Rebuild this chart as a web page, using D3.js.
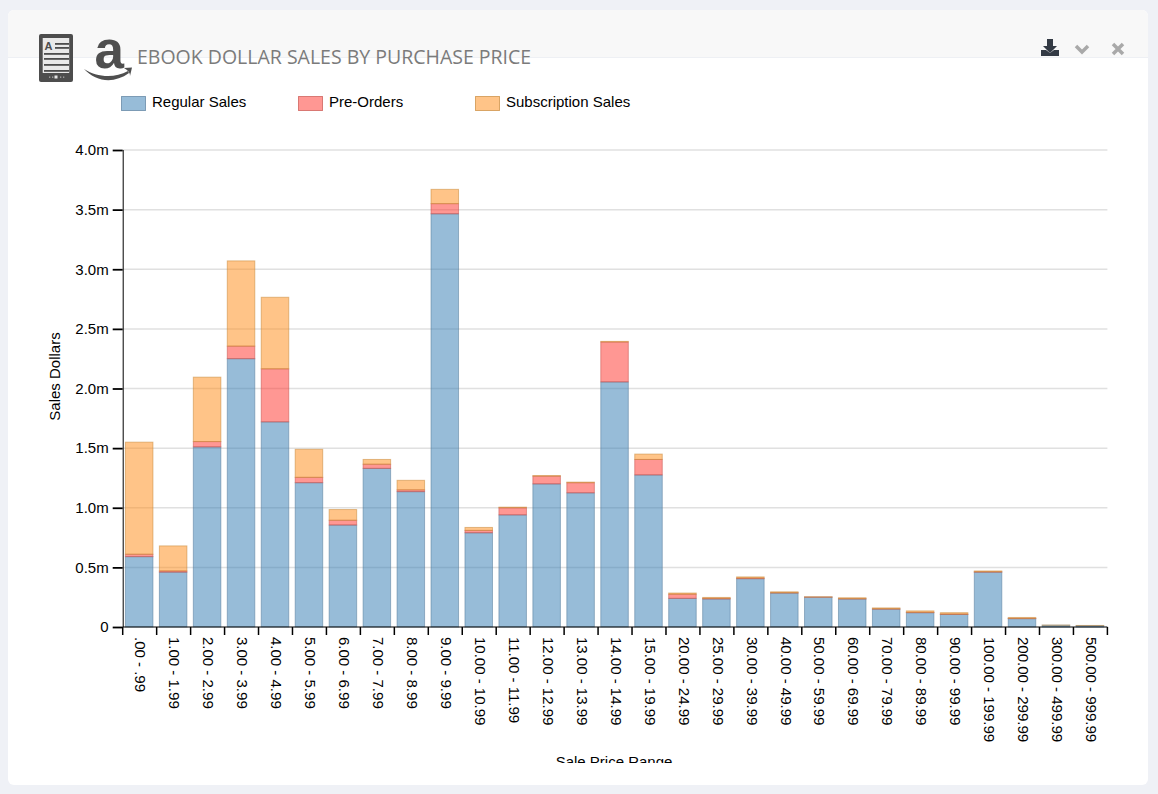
<!DOCTYPE html>
<html><head><meta charset="utf-8">
<script src="https://cdn.jsdelivr.net/npm/d3@7"></script>
<style>
html,body{margin:0;padding:0;background:#eff1f6;overflow:hidden}
svg{display:block}
text{font-family:"Liberation Sans",Arial,sans-serif;font-size:15px;fill:#000}
.title{font-family:"Open Sans",sans-serif;font-size:19.5px;fill:#7b7b7b}
</style></head><body>
<svg id="c" width="1158" height="794"></svg>
<script>
const categories=[".00 - .99","1.00 - 1.99","2.00 - 2.99","3.00 - 3.99","4.00 - 4.99","5.00 - 5.99","6.00 - 6.99","7.00 - 7.99","8.00 - 8.99","9.00 - 9.99","10.00 - 10.99","11.00 - 11.99","12.00 - 12.99","13.00 - 13.99","14.00 - 14.99","15.00 - 19.99","20.00 - 24.99","25.00 - 29.99","30.00 - 39.99","40.00 - 49.99","50.00 - 59.99","60.00 - 69.99","70.00 - 79.99","80.00 - 89.99","90.00 - 99.99","100.00 - 199.99","200.00 - 299.99","300.00 - 499.99","500.00 - 999.99"];
const regularSales=[.59,.46,1.51,2.25,1.72,1.21,.855,1.33,1.135,3.465,.79,.94,1.2,1.125,2.055,1.275,.24,.235,.405,.285,.25,.235,.15,.12,.105,.46,.07,.015,.012];
const preOrders=[.02,.01,.045,.105,.445,.045,.04,.035,.015,.085,.02,.06,.065,.085,.335,.13,.035,.005,.005,.002,.001,.002,.002,.003,.003,.003,.002,0,0];
const subscriptionSales=[.94,.21,.54,.715,.6,.235,.09,.04,.08,.12,.025,.005,.005,.005,.005,.045,.01,.008,.01,.008,.002,.008,.008,.012,.012,.007,.008,.001,.001];
const seriesNames=["Regular Sales","Pre-Orders","Subscription Sales"];
const seriesFill=["#2f79b2","#ff3028","#ff8a12"];
const seriesStroke=["#5a7f9e","#c9544e","#c98a3c"];
const yTicks=[0,.5,1,1.5,2,2.5,3,3.5,4];
const titleText="EBOOK DOLLAR SALES BY PURCHASE PRICE";

const svg=d3.select("#c");
const defs=svg.append("defs");
defs.append("clipPath").attr("id","cardclip").append("rect").attr("x",8).attr("y",10).attr("width",1140).attr("height",775).attr("rx",6);
defs.append("clipPath").attr("id","chartclip").append("rect").attr("x",0).attr("y",0).attr("width",1158).attr("height",763);

const card=svg.append("g").attr("clip-path","url(#cardclip)");
card.append("rect").attr("x",8).attr("y",10).attr("width",1140).attr("height",775).attr("fill","#fff");
card.append("rect").attr("x",8).attr("y",10).attr("width",1140).attr("height",47).attr("fill","#f8f8f8");
card.append("rect").attr("x",8).attr("y",57).attr("width",1140).attr("height",1).attr("fill","#eef0f4");

// e-reader icon
const ic=svg.append("g");
ic.append("rect").attr("x",39).attr("y",34).attr("width",34).attr("height",48).attr("rx",2).attr("fill","#4d4d4d");
ic.append("rect").attr("x",42.7).attr("y",38).attr("width",26.5).attr("height",35).attr("fill","#e9e9e9");
[[55,43],[55,47],[44,53],[44,58],[44,64],[44,70]].forEach(d=>{
  ic.append("rect").attr("x",d[0]).attr("y",d[1]).attr("width",69-d[0]).attr("height",1.8).attr("fill","#4d4d4d");
});
ic.append("text").attr("x",44.5).attr("y",50).style("font-size","11px").style("font-weight","bold").style("fill","#4d4d4d").text("A");
ic.append("rect").attr("x",54.5).attr("y",75.5).attr("width",3).attr("height",3).attr("fill","#e5e5e5");
[49,52,60,63].forEach(v=>ic.append("rect").attr("x",v).attr("y",76.5).attr("width",1.3).attr("height",1.3).attr("fill","#aaa"));
// amazon icon
ic.append("text").attr("x",94.5).attr("y",68).style("font-size","53px").style("font-weight","bold").style("fill","#4f4f4f").text("a");
ic.append("path").attr("d","M84 69 C96 77 114 79 128 71 L129 73 C114 84 96 82 84 69Z").attr("fill","#4f4f4f");
ic.append("path").attr("d","M124 68 L132 67.5 L130 76 Q130 71 124 68Z").attr("fill","#4f4f4f");
svg.append("text").attr("class","title").attr("x",137).attr("y",64).text(titleText);

// toolbar icons
const tb=svg.append("g");
tb.append("path").attr("d","M1047 39h6v7h4l-7 7l-7-7h4z").attr("fill","#333a44");
tb.append("path").attr("d","M1041 50h5l4 3l4-3h5v6h-18z").attr("fill","#333a44");
tb.append("path").attr("d","M1076 46l6 6l6-6").attr("fill","none").attr("stroke","#a9a9a9").attr("stroke-width",3.5);
tb.append("path").attr("d","M1113 44l10 10M1123 44l-10 10").attr("fill","none").attr("stroke","#a9a9a9").attr("stroke-width",3.5);

const x=d3.scaleBand().domain(categories).range([122.7,1107.4]).paddingInner(.16).paddingOuter(.08);
const y=d3.scaleLinear().domain([0,4]).range([627,150]);

const chart=svg.append("g").attr("clip-path","url(#chartclip)");
// grid
chart.append("g").selectAll("line").data(yTicks.filter(d=>d>0)).join("line")
 .attr("x1",123).attr("x2",1107.4).attr("y1",d=>y(d)).attr("y2",d=>y(d))
 .attr("stroke","#e0e0e0").attr("stroke-width",1.5);

// bars
const stacked=categories.map((c,i)=>({c,v:[regularSales[i],preOrders[i],subscriptionSales[i]]}));
[0,1,2].forEach(s=>{
 chart.append("g").selectAll("rect").data(stacked.filter(d=>d.v[s]>0)).join("rect")
  .attr("x",d=>x(d.c)).attr("width",x.bandwidth()-1)
  .attr("y",d=>y(d3.sum(d.v.slice(0,s+1))))
  .attr("height",d=>y(d3.sum(d.v.slice(0,s)))-y(d3.sum(d.v.slice(0,s+1))))
  .attr("fill",seriesFill[s]).attr("fill-opacity",.5)
  .attr("stroke",seriesStroke[s]).attr("stroke-opacity",.55).attr("stroke-width",1);
});

// axes
const yAxis=d3.axisLeft(y).tickValues(yTicks).tickSize(10).tickPadding(4).tickFormat(d=>d===0?"0":d.toFixed(1)+"m");
const ya=chart.append("g").attr("transform","translate(122.7,0)").call(yAxis);
const xTick=d3.scaleLinear().domain([0,categories.length]).range([122.7,1107.4]);
const xAxis=d3.axisBottom(d3.scalePoint().domain(categories).range([x(categories[0])+x.bandwidth()/2,x(categories[28])+x.bandwidth()/2])).tickSize(0).tickPadding(0);
const xa=chart.append("g").attr("transform","translate(0,627)").call(xAxis);
xa.selectAll(".tick text").attr("transform","translate(0,10) rotate(90)").attr("text-anchor","start").attr("dy","0.32em").attr("dx","0").attr("y",0).attr("x",0).style("font-size","15px");
xa.select(".domain").remove();
chart.append("g").selectAll("line").data(d3.range(categories.length+1)).join("line")
 .attr("x1",d=>xTick(d)).attr("x2",d=>xTick(d)).attr("y1",627).attr("y2",635).attr("stroke","#000").attr("stroke-width",1.5);
chart.append("line").attr("x1",122.7).attr("x2",1107.4).attr("y1",627).attr("y2",627).attr("stroke","#000").attr("stroke-width",1.2);
ya.selectAll("line").attr("stroke","#000").attr("stroke-width",1.8);
ya.select(".domain").attr("d","M0.5,150V627").attr("stroke","#000");
ya.selectAll("text").style("font-size","15px");

chart.append("text").attr("transform","translate(60,376.5) rotate(-90)").attr("text-anchor","middle").text("Sales Dollars");
chart.append("text").attr("x",614).attr("y",767).attr("text-anchor","middle").text("Sale Price Range");

// legend
const lx=d3.scaleOrdinal().domain(seriesNames).range([121,298,475]);
const lg=svg.append("g").selectAll("g").data(seriesNames).join("g").attr("transform",d=>`translate(${lx(d)},96)`);
lg.append("rect").attr("x",.5).attr("y",.5).attr("width",24).attr("height",14)
 .attr("fill",(d,i)=>seriesFill[i]).attr("fill-opacity",.5).attr("stroke",(d,i)=>seriesStroke[i]).attr("stroke-opacity",.7);
lg.append("text").attr("x",31).attr("y",11).text(d=>d);
</script>
</body></html>
